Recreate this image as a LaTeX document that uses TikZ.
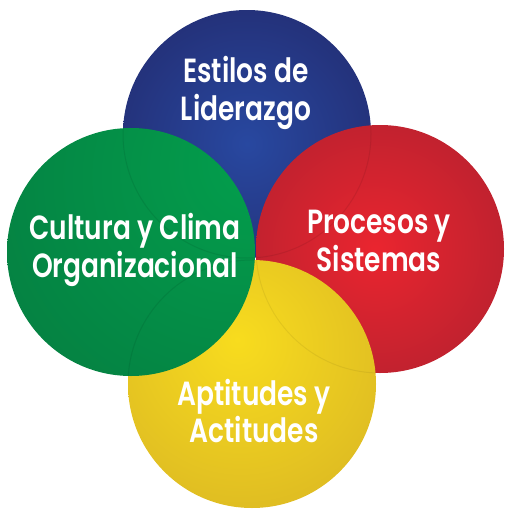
\documentclass[tikz,border=0pt]{standalone}
\usepackage{fontspec}
\newfontfamily\labelfont{Poppins SemiBold}[FakeStretch=0.79]
\definecolor{bluein}{RGB}{40,72,160}
\definecolor{blueout}{RGB}{33,34,96}
\definecolor{redin}{RGB}{234,37,47}
\definecolor{redout}{RGB}{154,31,47}
\definecolor{yelin}{RGB}{248,220,30}
\definecolor{yelout}{RGB}{205,166,38}
\definecolor{grnin}{RGB}{3,160,77}
\definecolor{grnout}{RGB}{6,106,58}
\pgfdeclareradialshading{blueshade}{\pgfpoint{0bp}{-2bp}}{color(0bp)=(bluein); color(45bp)=(blueout); color(100bp)=(blueout)}
\pgfdeclareradialshading{redshade}{\pgfpoint{-1bp}{0bp}}{color(0bp)=(redin); color(50bp)=(redout); color(100bp)=(redout)}
\pgfdeclareradialshading{yelshade}{\pgfpoint{-3bp}{9bp}}{color(0bp)=(yelin); color(55bp)=(yelout); color(100bp)=(yelout)}
\pgfdeclareradialshading{grnshade}{\pgfpoint{28bp}{20bp}}{color(0bp)=(grnin); color(85bp)=(grnout); color(120bp)=(grnout)}
\tikzset{
  disc/.style={circle, minimum size=248pt, inner sep=0pt},
  lbl/.style={text=white, align=center, font=\labelfont\fontsize{33.5}{37.5}\selectfont, inner sep=0pt}
}
\begin{document}
\begin{tikzpicture}[x=1pt,y=-1pt]
\useasboundingbox (0,0) rectangle (512,514);
\node[disc, shading=blueshade] (blue) at (247,134) {};
\node[disc, shading=redshade] (red) at (380,249) {};
\node[disc, shading=yelshade] (yellow) at (252,384) {};
\node[disc, shading=grnshade] (green) at (131,252) {};
% faint see-through edges of the circles underneath
\begin{scope}
  \clip (red.center) circle[radius=124pt];
  \draw[black, opacity=0.08, line width=1pt] (blue.center) circle[radius=124pt];
\end{scope}
\begin{scope}
  \clip (yellow.center) circle[radius=124pt];
  \draw[black, opacity=0.06, line width=1pt] (red.center) circle[radius=124pt];
\end{scope}
\begin{scope}
  \clip (green.center) circle[radius=124pt];
  \draw[black, opacity=0.08, line width=1pt] (blue.center) circle[radius=124pt];
  \draw[black, opacity=0.08, line width=1pt] (yellow.center) circle[radius=124pt];
\end{scope}
\node[lbl] (tblue) at (246,93) {Estilos de\\Liderazgo};
\node[lbl] (tred) at (379,241) {Procesos y\\Sistemas};
\node[lbl] (tyellow) at (254,411) {Aptitudes y\\Actitudes};
\node[lbl] (tgreen) at (135,250) {Cultura y Clima\\Organizacional};
\end{tikzpicture}
\end{document}
